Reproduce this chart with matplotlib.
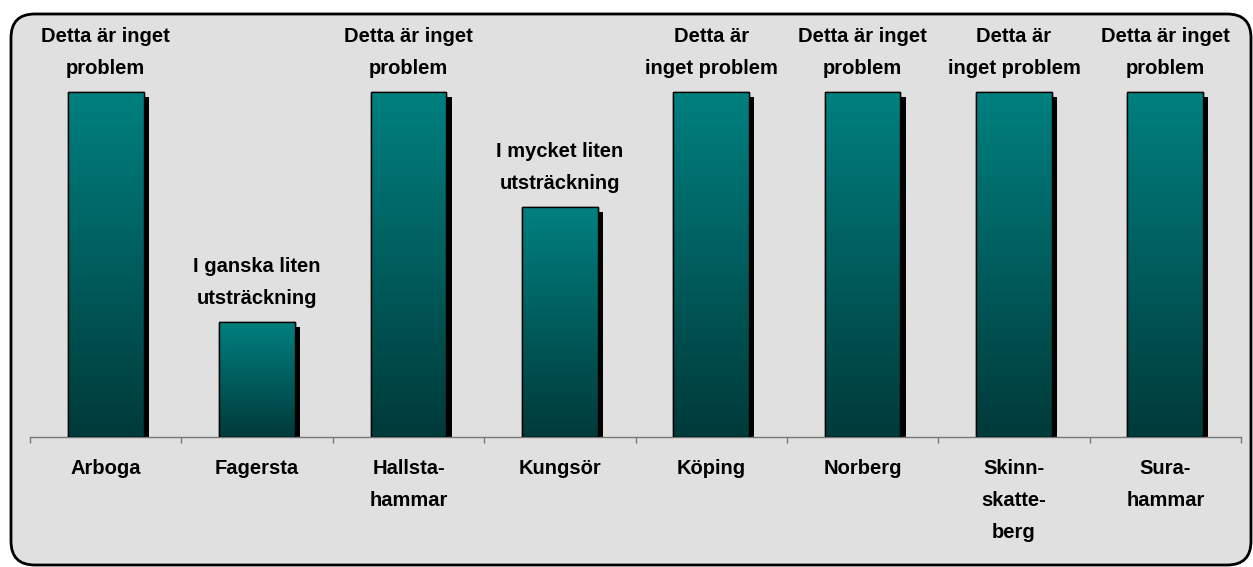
import matplotlib
matplotlib.use("Agg")
import matplotlib.pyplot as plt
import matplotlib.patheffects as pe
from matplotlib.patches import FancyBboxPatch
import numpy as np

categories = ["Arboga", "Fagersta", "Hallsta-\nhammar", "Kungsör", "Köping",
              "Norberg", "Skinn-\nskatte-\nberg", "Sura-\nhammar"]
values = [3, 1, 3, 2, 3, 3, 3, 3]
bar_labels = ["Detta är inget\nproblem", "I ganska liten\nutsträckning",
              "Detta är inget\nproblem", "I mycket liten\nutsträckning",
              "Detta är\ninget problem", "Detta är inget\nproblem",
              "Detta är\ninget problem", "Detta är inget\nproblem"]

W, H = 1253, 567
fig = plt.figure(figsize=(W / 100, H / 100), dpi=100, facecolor="white")
plt.rcParams["font.family"] = ["Liberation Sans", "DejaVu Sans"]

# rounded frame
frame = FancyBboxPatch((11 / W, 2 / H), (1251 - 11) / W, (553 - 2) / H,
                       boxstyle="round,pad=0,rounding_size=0.019",
                       transform=fig.transFigure, facecolor="#e0e0e0",
                       edgecolor="black", linewidth=2, zorder=-5,
                       mutation_aspect=W / H)
fig.patches.append(frame)

ax_left, ax_right = 30 / W, 1241 / W
base = (H - 437) / H
ymax = 3.3
px_per_unit = 345 / 3
ax_h = ymax * px_per_unit / H
ax = fig.add_axes([ax_left, base, ax_right - ax_left, ax_h], zorder=5)
ax.patch.set_visible(False)

x = np.arange(len(categories))
bw = 0.5
bars = ax.bar(x, values, width=bw, facecolor="#008080", edgecolor="black",
              linewidth=1, zorder=2,
              path_effects=[pe.SimplePatchShadow(offset=(3.8, -3.8),
                                                 shadow_rgbFace="black", alpha=1),
                            pe.Normal()])

top_c = np.array([0, 128, 128]) / 255
bot_c = np.array([0, 58, 58]) / 255
t = np.linspace(0, 1, 256)[:, None]
grad = (bot_c[None, :] * (1 - t) + top_c[None, :] * t)[:, None, :]
for r in bars:
    x0, w, h = r.get_x(), r.get_width(), r.get_height()
    im = ax.imshow(grad, extent=(x0, x0 + w, 0, h), origin="lower",
                   aspect="auto", zorder=3, interpolation="bilinear")
    im.set_clip_path(r)
ax.bar(x, values, width=bw, facecolor="none", edgecolor="black",
       linewidth=1, zorder=4)

for xi, v, lab in zip(x, values, bar_labels):
    ax.annotate(lab, (xi, v), xytext=(0, 10), textcoords="offset points",
                ha="center", va="bottom", fontsize=14.5, fontweight="bold",
                linespacing=1.85, color="black")

ax.set_xlim(-0.5, len(categories) - 0.5)
ax.set_ylim(0, ymax)
ax.set_aspect("auto")

for s in ["top", "left", "right"]:
    ax.spines[s].set_visible(False)
ax.spines["bottom"].set_color("#777777")
ax.spines["bottom"].set_linewidth(1)
ax.set_yticks([])
ax.set_xticks(x)
ax.set_xticklabels(categories, fontsize=14.5, fontweight="bold",
                   linespacing=1.85)
ax.tick_params(axis="x", which="major", length=0, pad=16)
ax.set_xticks(np.arange(len(categories) + 1) - 0.5, minor=True)
ax.tick_params(axis="x", which="minor", length=4, color="#777777", width=1)

fig.savefig("out.png", dpi=100, facecolor="white")
